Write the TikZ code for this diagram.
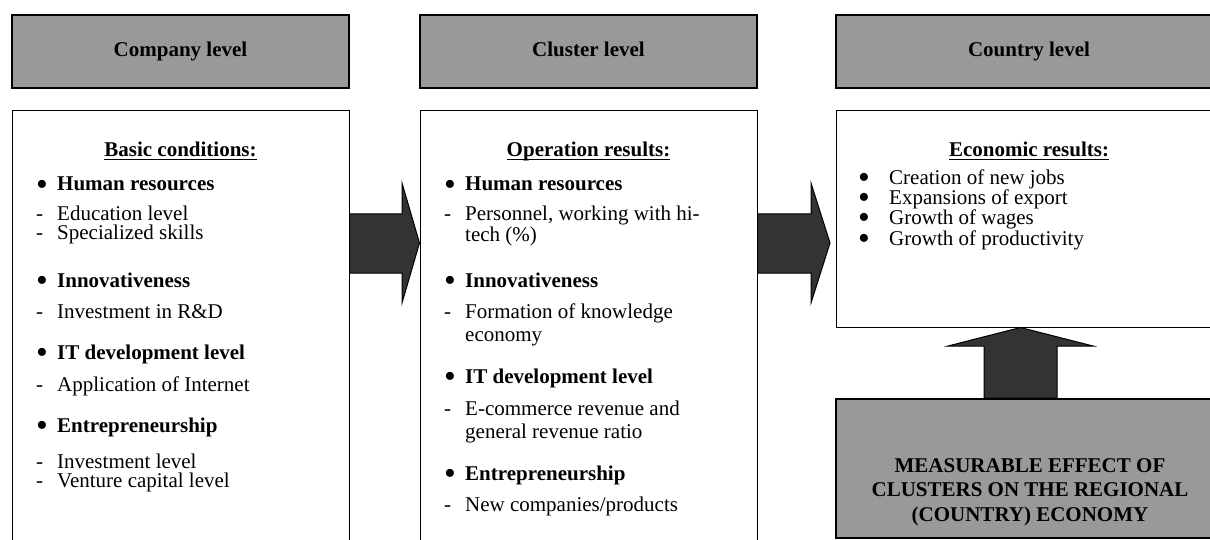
\documentclass[tikz,border=0pt]{standalone}
\usepackage{fontspec}
\setmainfont{Liberation Serif}

\definecolor{levelgray}{HTML}{999999}
\definecolor{arrowdark}{HTML}{333333}

\newcommand{\bigdot}[1]{\raisebox{#1}{\scalebox{1.6}{\textbullet}}}
\newcommand{\bul}[1]{\makebox[21pt][l]{\bigdot{-4.5pt}}\textbf{#1}}
\newcommand{\dsh}[1]{\makebox[21pt][l]{-}#1}
\newcommand{\cnt}[1]{\hspace*{21pt}#1}
\newcommand{\ebul}[1]{\makebox[31pt][l]{\bigdot{-4pt}}#1}
\newcommand{\ttl}[1]{\setbox0\hbox{#1}\rlap{\rule[-3.5pt]{\wd0}{1.6pt}}\box0}

\tikzset{
  every node/.style={inner sep=0pt, font=\fontsize{21}{24.5}\selectfont},
  levelbox/.style={draw, line width=1.6pt, fill=levelgray, minimum height=73pt,
    text height=14pt, text depth=4pt, font=\fontsize{21}{24.5}\selectfont\bfseries},
  listbox/.style={draw, line width=1pt, fill=white},
  title/.style={text height=14pt, text depth=0pt, font=\fontsize{21}{24.5}\selectfont\bfseries},
  item/.style={anchor=west, text height=14pt, text depth=0pt},
  blockarrow/.style={draw, line width=1pt, fill=arrowdark},
}

\begin{document}
\begin{tikzpicture}[x=1pt, y=-1pt]
    \useasboundingbox (0,0) rectangle (1210,540);
    \clip (0,0) rectangle (1210,540);

    % level headers
    \node[levelbox, minimum width=337pt] (comphead) at (180.5,51.5) {Company level};
    \node[levelbox, minimum width=337pt] (clushead) at (588.5,51.5) {Cluster level};
    \node[levelbox, minimum width=386pt] (counhead) at (1029,51.5) {Country level};

    % content boxes
    \node[listbox, minimum width=337pt, minimum height=459pt] (compbox) at (180.5,340.5) {};
    \node[listbox, minimum width=337pt, minimum height=459pt] (clusbox) at (588.5,340.5) {};
    \node[listbox, minimum width=386pt, minimum height=216pt] (counbox) at (1029,219) {};
    \node[levelbox, minimum width=386pt, minimum height=139pt] (effbox) at (1029,468.5) {};

    % company level
    \node[title] (comptitle) at (180.5,150) {\ttl{Basic conditions:}};
    \foreach \yy/\mk/\txt [count=\i] in {184/\bul/Human resources, 214/\dsh/Education level,
        233/\dsh/Specialized skills, 280/\bul/Innovativeness, 311/\dsh/Investment in R\&D,
        352/\bul/IT development level, 384/\dsh/Application of Internet,
        425/\bul/Entrepreneurship, 461/\dsh/Investment level, 480/\dsh/Venture capital level}
        \node[item] (comp-\i) at (36,\yy) {\mk{\txt}};

    % cluster level
    \node[title] (clustitle) at (588.5,150) {\ttl{Operation results:}};
    \foreach \yy/\mk/\txt [count=\i] in {184/\bul/Human resources,
        214/\dsh/{Personnel, working with hi-}, 234/\cnt/tech (\%),
        280/\bul/Innovativeness, 311/\dsh/Formation of knowledge, 334/\cnt/economy,
        376/\bul/IT development level, 408/\dsh/E-commerce revenue and,
        431/\cnt/general revenue ratio, 473/\bul/Entrepreneurship,
        504/\dsh/{New companies/products}}
        \node[item] (clus-\i) at (444,\yy) {\mk{\txt}};

    % country level
    \node[title] (countitle) at (1029,150) {\ttl{Economic results:}};
    \foreach \yy/\txt [count=\i] in {178/Creation of new jobs, 198/Expansions of export,
        218/Growth of wages, 238/Growth of productivity}
        \node[item] (coun-\i) at (858,\yy) {\ebul{\txt}};

    \node[align=center, font=\fontsize{21}{24.5}\selectfont\bfseries] (efftxt) at (1030,492)
        {MEASURABLE EFFECT OF\\CLUSTERS ON THE REGIONAL\\(COUNTRY) ECONOMY};

    % block arrows
    \draw[blockarrow] (compbox.east |- 0,214) -- (402,214) -- (402,183) -- (clusbox.west |- 0,243)
        -- (402,303) -- (402,273) -- (compbox.east |- 0,273) -- cycle;
    \draw[blockarrow] (clusbox.east |- 0,214) -- (811,214) -- (811,183) -- (830,243)
        -- (811,303) -- (811,273) -- (clusbox.east |- 0,273) -- cycle;
    \draw[blockarrow] (effbox.north -| 984,0) -- (984,346) -- (948,346) -- (counbox.south -| 1020.5,0)
        -- (1093,346) -- (1057,346) -- (effbox.north -| 1057,0) -- cycle;
\end{tikzpicture}
\end{document}
